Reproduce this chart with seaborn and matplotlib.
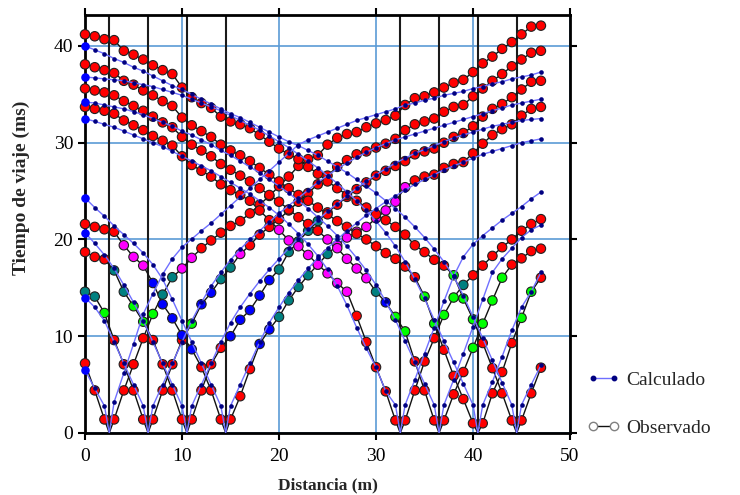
import pandas as pd
import matplotlib
matplotlib.use("Agg")
import matplotlib.pyplot as plt
from matplotlib.lines import Line2D
import seaborn as sns

# geophone positions (m) and shot positions (m)
geophones = list(range(48))
shots = [2.5, 6.5, 10.5, 14.5, 32.5, 36.5, 40.5, 44.5]

# observed first breaks (ms), one list per shot, geophones 0..47
obs_02 = [7.2, 4.4, 1.4, 1.4, 4.4, 7.1, 9.8, 12.3, 14.3, 16.1, 17.0, 18.1, 19.1, 19.9, 20.7, 21.4,
          21.9, 22.7, 23.6, 24.5, 25.5, 26.5, 27.6, 28.3, 28.7, 29.8, 30.5, 30.9, 31.1, 31.6, 32.0, 32.35,
          32.8, 33.9, 34.6, 34.8, 35.2, 35.7, 36.2, 36.5, 37.3, 38.2, 38.9, 39.7, 40.4, 41.2, 42.0, 42.1]
obs_06 = [14.6, 14.1, 12.4, 9.6, 7.1, 4.4, 1.4, 1.4, 4.4, 7.1, 9.6, 11.3, 13.3, 14.5, 15.9, 17.1,
          18.5, 19.4, 20.5, 21.3, 22.1, 23.0, 23.9, 24.8, 25.7, 26.6, 27.5, 28.2, 28.8, 29.1, 29.5, 29.9,
          30.4, 31.3, 31.9, 32.2, 32.5, 33.2, 33.7, 33.9, 34.8, 35.6, 36.4, 37.1, 37.9, 38.6, 39.3, 39.5]
obs_10 = [18.7, 18.2, 17.95, 16.8, 14.6, 13.1, 11.5, 9.6, 7.1, 4.4, 1.4, 1.4, 4.4, 7.1, 8.8, 10.0,
          11.7, 12.7, 14.2, 15.8, 16.9, 18.7, 19.8, 20.9, 21.9, 22.8, 23.6, 24.4, 25.2, 25.9, 26.6, 27.1,
          27.6, 28.1, 28.8, 29.1, 29.4, 30.0, 30.6, 31.0, 31.7, 32.7, 33.5, 34.0, 34.7, 35.5, 36.3, 36.4]
obs_14 = [21.6, 21.3, 21.05, 20.8, 19.4, 18.2, 17.3, 15.5, 13.3, 11.85, 10.1, 8.65, 6.8, 4.4, 1.4, 1.4,
          3.8, 6.6, 9.2, 10.7, 12.0, 13.7, 15.1, 16.3, 17.4, 18.5, 19.4, 20.2, 20.8, 21.3, 22.2, 23.0,
          23.9, 25.4, 26.1, 26.5, 26.7, 27.4, 27.8, 28.0, 28.9, 29.9, 30.8, 31.4, 31.9, 32.8, 33.5, 33.7]
obs_32 = [33.7, 33.5, 33.3, 33.0, 32.3, 31.8, 31.3, 30.7, 30.2, 29.7, 28.6, 27.7, 27.1, 26.5, 25.7, 25.1,
          24.6, 24.0, 23.0, 22.0, 21.0, 19.9, 19.3, 18.4, 17.4, 16.5, 15.5, 14.6, 12.1, 9.4, 6.8, 4.3,
          1.3, 1.3, 4.4, 7.4, 9.8, 12.2, 14.0, 15.3, 16.3, 17.3, 18.3, 19.2, 20.0, 20.9, 21.6, 22.1]
obs_36 = [35.6, 35.4, 35.2, 34.9, 34.3, 33.8, 33.3, 32.7, 32.1, 31.6, 30.6, 29.8, 29.2, 28.6, 27.8, 27.2,
          26.6, 26.0, 25.3, 24.6, 23.9, 23.1, 22.3, 21.6, 20.9, 20.0, 19.1, 18.0, 17.0, 16.0, 14.6, 13.5,
          12.0, 10.5, 7.4, 4.4, 1.3, 1.3, 4.0, 6.3, 8.8, 11.3, 13.7, 16.05, 17.4, 18.05, 18.8, 19.05]
obs_40 = [38.1, 37.8, 37.5, 37.2, 36.4, 36.0, 35.4, 34.9, 34.3, 33.8, 32.6, 31.8, 31.2, 30.6, 29.8, 29.2,
          28.7, 28.1, 27.4, 26.7, 26.0, 25.3, 24.6, 24.0, 23.3, 22.6, 21.9, 21.3, 20.6, 20.0, 19.3, 18.6,
          18.0, 17.2, 16.1, 14.1, 11.3, 8.6, 5.9, 3.5, 1.0, 1.0, 4.1, 6.3, 9.3, 11.9, 14.6, 16.05]
obs_44 = [41.2, 41.0, 40.7, 40.6, 39.5, 39.1, 38.6, 38.0, 37.5, 37.1, 35.7, 34.7, 34.1, 33.6, 32.7, 32.2,
          31.9, 31.5, 30.8, 30.1, 29.4, 28.8, 28.3, 27.5, 26.8, 26.0, 25.3, 24.6, 24.0, 23.3, 22.6, 22.0,
          21.3, 20.5, 19.4, 18.7, 17.9, 17.3, 16.3, 13.9, 11.75, 9.3, 6.7, 4.1, 1.3, 1.3, 4.1, 6.75]

# marker colour codes of the observed picks (r red, m magenta, t teal, g green, b blue)
col_02 = "rrrrrrrg ttmmrrrr rrrrrrrr rrrrrrrr rrrrrrrr rrrrrrrr"
col_06 = "ttgrrrrr rrrgbbtt mrrrrrrr rrrrrrrr rrrrrrrr rrrrrrrr"
col_10 = "rrrttggr rrrrrrrb bbbbtttt trrrrrrr rrrrrrrr rrrrrrrr"
col_14 = "rrrrmmmb bbbbrrrr rrbbtttt ttmmmmmm mmrrrrrr rrrrrrrr"
col_32 = "rrrrrrrr rrrrrrrr rrrrmmmm mmmmrrrr rrrrrggt rrrrrrrr"
col_36 = "rrrrrrrr rrrrrrrr rrrrrrrr rmmmmmtb ggrrrrrr ggggrrrr"
col_40 = "rrrrrrrr rrrrrrrr rrrrrrrr rrrrrrrr rrrggrrr rrrrrggr"
col_44 = "rrrrrrrr rrrrrrrr rrrrrrrr rrrrrrrr rrrrrrgg grrrrrrr"

# calculated travel times (ms)
calc_02 = [6.5, 4.6, 2.8, 3.2, 6.2, 9.2, 12.3, 14.4, 16.4, 18.0, 19.2, 20.05, 20.9, 21.7, 22.6, 23.5,
           24.4, 25.3, 26.2, 27.1, 28.0, 28.9, 29.8, 30.3, 30.7, 31.1, 31.5, 31.9, 32.3, 32.6, 32.9, 33.2,
           33.5, 33.9, 34.1, 34.4, 34.6, 34.9, 35.1, 35.3, 35.6, 35.8, 36.1, 36.3, 36.6, 36.8, 37.0, 37.3]
calc_06 = [14.0, 13.0, 11.6, 9.4, 7.2, 5.0, 2.8, 2.8, 5.0, 7.2, 9.4, 11.6, 13.5, 15.2, 16.6, 17.9,
           19.0, 20.0, 20.9, 21.8, 22.7, 23.5, 24.3, 25.1, 25.9, 26.6, 27.3, 27.9, 28.5, 29.0, 29.5, 29.9,
           30.3, 30.6, 30.9, 31.2, 31.5, 31.8, 32.1, 32.4, 32.7, 33.0, 33.3, 33.6, 33.9, 34.1, 34.3, 34.5]
calc_10 = [20.7, 19.6, 18.4, 17.0, 15.3, 13.5, 11.6, 9.4, 7.2, 5.0, 2.8, 2.8, 5.0, 7.2, 9.4, 11.4,
           13.0, 14.4, 15.7, 16.9, 18.0, 19.1, 20.1, 21.1, 22.0, 22.9, 23.7, 24.5, 25.3, 26.0, 26.7, 27.3,
           27.9, 28.4, 28.9, 29.3, 29.7, 30.1, 30.5, 30.8, 31.1, 31.4, 31.7, 31.9, 32.1, 32.3, 32.4, 32.5]
calc_14 = [24.3, 23.3, 22.4, 21.4, 20.5, 19.6, 18.6, 17.4, 15.9, 13.8, 11.6, 9.4, 7.2, 5.0, 2.8, 2.8,
           5.0, 7.2, 9.4, 11.4, 13.0, 14.5, 15.8, 17.0, 18.1, 19.1, 20.0, 20.9, 21.7, 22.5, 23.2, 23.9,
           24.5, 25.1, 25.7, 26.2, 26.7, 27.2, 27.6, 28.0, 28.4, 28.8, 29.1, 29.4, 29.7, 30.0, 30.2, 30.4]
calc_32 = [32.5, 32.2, 31.9, 31.6, 31.2, 30.8, 30.4, 30.0, 29.6, 29.1, 28.6, 28.1, 27.6, 27.1, 26.5, 25.9,
           25.3, 24.7, 24.0, 23.3, 22.5, 21.6, 20.6, 19.5, 18.3, 16.9, 15.2, 13.2, 10.9, 8.75, 6.8, 4.3,
           2.9, 2.9, 5.5, 8.2, 10.9, 13.6, 16.2, 18.2, 19.5, 20.4, 21.2, 22.0, 22.7, 23.4, 24.2, 24.9]
calc_36 = [34.2, 34.1, 33.9, 33.7, 33.5, 33.2, 32.9, 32.5, 32.1, 31.7, 31.2, 30.8, 30.3, 29.8, 29.2, 28.7,
           28.1, 27.5, 26.9, 26.2, 25.5, 24.8, 24.0, 23.2, 22.3, 21.4, 20.4, 19.3, 18.1, 16.8, 15.3, 13.6,
           11.7, 9.5, 7.3, 5.1, 2.9, 2.9, 5.5, 8.2, 11.0, 13.8, 16.6, 18.0, 19.1, 20.2, 21.0, 21.5]
calc_40 = [36.8, 36.7, 36.6, 36.5, 36.4, 36.2, 36.0, 35.8, 35.5, 35.2, 34.9, 34.5, 34.1, 33.7, 33.3, 32.8,
           32.3, 31.8, 31.3, 30.7, 30.1, 29.5, 28.8, 28.1, 27.4, 26.6, 25.8, 24.9, 24.0, 23.0, 21.9, 20.7,
           19.3, 17.7, 15.9, 13.9, 11.7, 9.5, 7.3, 5.1, 2.9, 2.9, 5.3, 7.9, 10.6, 13.0, 14.6, 16.6]
calc_44 = [40.0, 39.6, 39.2, 38.7, 38.3, 37.8, 37.4, 36.9, 36.4, 35.9, 35.5, 35.0, 34.5, 34.0, 33.5, 33.0,
           32.6, 32.1, 31.6, 31.1, 30.6, 30.1, 29.7, 29.2, 28.7, 28.1, 27.5, 26.9, 26.2, 25.5, 24.8, 24.0,
           23.2, 22.3, 21.3, 20.2, 19.0, 17.7, 16.2, 14.2, 12.0, 9.8, 7.5, 5.2, 2.9, 2.9, 5.0, 7.0]

obs_all = [obs_02, obs_06, obs_10, obs_14, obs_32, obs_36, obs_40, obs_44]
col_all = [col_02, col_06, col_10, col_14, col_32, col_36, col_40, col_44]
calc_all = [calc_02, calc_06, calc_10, calc_14, calc_32, calc_36, calc_40, calc_44]

palette = {"r": "#ff0000", "m": "#ff00ff", "t": "#008080", "g": "#00ff00", "b": "#0000ff"}

# long tables for seaborn
rows = []
for s, o, c, k in zip(shots, obs_all, col_all, calc_all):
    c = c.replace(" ", "")
    for g, to, cc, tk in zip(geophones, o, c, k):
        rows.append({"shot": s, "x": g, "obs": to, "code": cc, "calc": tk})
df = pd.DataFrame(rows)

# lines also run down to zero time at the shot point
apex = pd.DataFrame({"shot": shots, "x": shots, "obs": 0.0, "calc": 0.0})
lines = pd.concat([df[["shot", "x", "obs", "calc"]], apex], ignore_index=True)

sns.set_style("ticks")
plt.rcParams["font.family"] = ["Liberation Serif", "DejaVu Serif"]

fig = plt.figure(figsize=(7.4, 4.95), dpi=100)
ax = fig.add_axes([0.1149, 0.1253, 0.6554, 0.8444])

ymax = 43.2
ax.set_xlim(0, 50)
ax.set_ylim(0, ymax)
ax.set_xticks([0, 10, 20, 30, 40, 50])
ax.set_yticks([0, 10, 20, 30, 40])
ax.grid(True, color="#5b9bd5", lw=1.2)
ax.set_axisbelow(True)

# shot markers
ax.vlines(shots, 0, ymax, color="#1a1a1a", lw=1.5, zorder=1.5)

sns.lineplot(data=lines, x="x", y="obs", units="shot", estimator=None, sort=True,
             color="#111111", lw=1.0, ax=ax, zorder=2)
sns.scatterplot(data=df, x="x", y="obs", hue="code", palette=palette, s=46,
                edgecolor="#202020", linewidth=0.8, legend=False, ax=ax, zorder=3, clip_on=False)
sns.lineplot(data=lines, x="x", y="calc", units="shot", estimator=None, sort=True,
             color="#6f6fff", lw=1.0, ax=ax, zorder=4)
sns.scatterplot(data=df, x="x", y="calc", color="#000080", s=11, linewidth=0,
                legend=False, ax=ax, zorder=5, clip_on=False)
edge = df[df["x"] == 0]
sns.scatterplot(data=edge, x="x", y="calc", color="#0000ff", s=38, linewidth=0,
                legend=False, ax=ax, zorder=5, clip_on=False)

for sp in ax.spines.values():
    sp.set_linewidth(2)
    sp.set_color("black")
ax.tick_params(direction="out", length=5, width=1.5, top=True, right=True,
               labelsize=14, colors="black")
ax.tick_params(axis="x", pad=6)
ax.set_xlabel("Distancia (m)", fontsize=12.5, fontweight="bold", labelpad=9)
ax.set_ylabel("Tiempo de viaje (ms)", fontsize=14, fontweight="bold")
ax.yaxis.set_label_coords(-0.113, 0.586)

handles = [
    Line2D([], [], color="#6f6fff", lw=1, marker="o", markersize=3.2,
           markerfacecolor="#000080", markeredgecolor="#000080"),
    Line2D([], [], color="#111111", lw=1, marker="o", markersize=6,
           markerfacecolor="white", markeredgecolor="#808080"),
]
ax.legend(handles, ["Calculado", "Observado"], loc="center left",
          bbox_to_anchor=(0.793, 0.184), bbox_transform=fig.transFigure,
          frameon=False, fontsize=14, numpoints=2, handlelength=1.7,
          handletextpad=0.35, labelspacing=1.55, borderpad=0, borderaxespad=0)

fig.savefig("out.png", dpi=100)
